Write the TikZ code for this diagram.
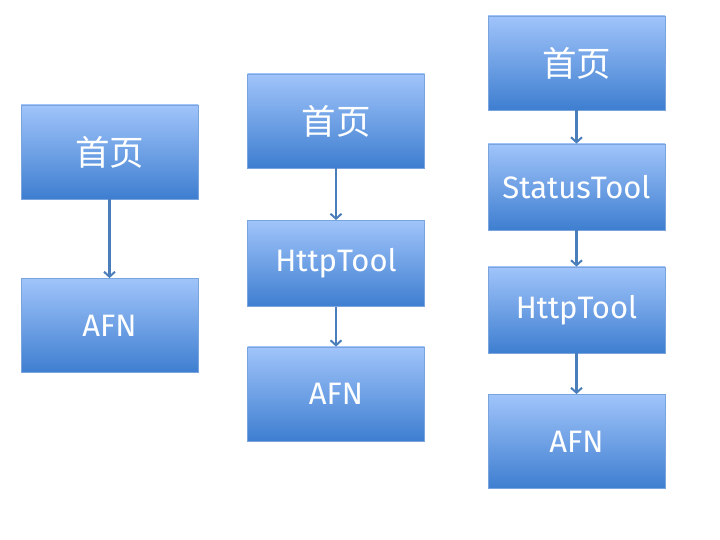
\documentclass[tikz,border=0pt]{standalone}
\usepackage{fontspec}
\setmainfont{Fira Sans}
\newfontfamily\cjk{Noto Sans CJK SC}
\usetikzlibrary{arrows.meta,positioning}
\definecolor{boxtop}{RGB}{160,196,250}
\definecolor{boxbot}{RGB}{62,126,208}
\definecolor{boxedge}{RGB}{122,164,222}
\definecolor{flowline}{RGB}{74,126,187}
\newcommand{\home}{{\cjk\fontsize{34.5}{40}\selectfont 首页}}
\tikzset{
  pagebox/.style={draw=boxedge, line width=0.8pt, top color=boxtop, bottom color=boxbot,
    minimum width=177pt, inner sep=0pt, text=white, font=\fontsize{31}{36}\selectfont},
  tallbox/.style={pagebox, minimum height=94pt},
  flatbox/.style={pagebox, minimum height=86pt},
  flow/.style={-{Straight Barb[length=5pt,width=11pt,line width=2pt]}, draw=flowline, line width=2.2pt}
}
\begin{document}
\begin{tikzpicture}[x=1pt,y=1pt]
  \useasboundingbox (0,0) rectangle (720,540);
  % first column
  \node[tallbox] (home1) at (109.5,388) {\home};
  \node[tallbox] (afn1) at (109.5,214.5) {AFN};
  \draw[flow] (home1) -- (afn1);
  % second column
  \node[tallbox] (home2) at (336,419) {\home};
  \node[flatbox] (http2) at (336,276.5) {HttpTool};
  \node[tallbox] (afn2) at (336,146) {AFN};
  \draw[flow] (home2) -- (http2);
  \draw[flow] (http2) -- (afn2);
  % third column
  \node[tallbox] (home3) at (576.5,477) {\home};
  \node[flatbox] (status3) at (576.5,353) {StatusTool};
  \node[flatbox] (http3) at (576.5,230) {HttpTool};
  \node[tallbox] (afn3) at (576.5,98.5) {AFN};
  \draw[flow] (home3) -- (status3);
  \draw[flow] (status3) -- (http3);
  \draw[flow] (http3) -- (afn3);
\end{tikzpicture}
\end{document}
